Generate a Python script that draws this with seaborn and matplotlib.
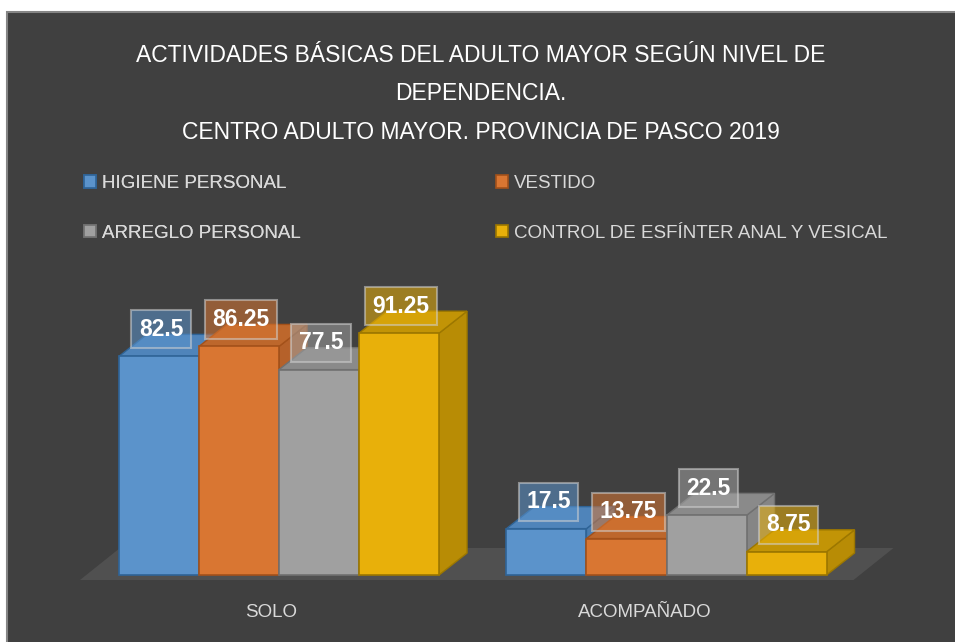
import numpy as np
import pandas as pd
import matplotlib
matplotlib.use("Agg")
import matplotlib.pyplot as plt
import seaborn as sns
from matplotlib.patches import Polygon, Rectangle, Patch

# datos del grafico
niveles = ["SOLO", "ACOMPAÑADO"]
actividades = ["HIGIENE PERSONAL", "VESTIDO", "ARREGLO PERSONAL",
               "CONTROL DE ESFÍNTER ANAL Y VESICAL"]
solo = [82.5, 86.25, 77.5, 91.25]
acompanado = [17.5, 13.75, 22.5, 8.75]

colores = ["#5b93cb", "#d97632", "#a0a0a0", "#e8b00a"]
bordes = ["#2f6497", "#a3511a", "#707070", "#9c7700"]
laterales = ["#4a7db0", "#b5612a", "#858585", "#b88c05"]
techos = ["#4f84ba", "#bd672c", "#8a8a8a", "#c29406"]

rows = []
for i, act in enumerate(actividades):
    rows.append((niveles[0], act, solo[i]))
    rows.append((niveles[1], act, acompanado[i]))
df = pd.DataFrame(rows, columns=["nivel", "actividad", "valor"])

sns.set_theme(style="white")
plt.rcParams["font.family"] = ["Liberation Sans", "DejaVu Sans"]

W, H = 955, 642
fig = plt.figure(figsize=(W / 100, H / 100), dpi=100, facecolor="white")
fig.patches.append(Rectangle((7 / W, -0.01), 1.0, 630 / H + 0.01, transform=fig.transFigure,
                             facecolor="#404040", edgecolor="#858585", lw=1.5, zorder=-5))

# posicion de los ejes (pixeles de la imagen)
AX_L, AX_R, AX_T, AX_B = 60, 900, 280, 585
X0, XS = 279, 387.5      # centro de SOLO, px por categoria
Y0, YS = 575, 2.65       # linea base, px por unidad
ax = fig.add_axes([AX_L / W, (H - AX_B) / H, (AX_R - AX_L) / W, (AX_B - AX_T) / H])
ax.patch.set_visible(False)
ax.set_zorder(2)

sns.barplot(data=df, x="nivel", y="valor", hue="actividad", order=niveles,
            hue_order=actividades, palette=colores, width=0.826, saturation=1,
            legend=False, ax=ax, linewidth=1.2)

ax.set_xlim((AX_L - X0) / XS, (AX_R - X0) / XS)
ax.set_ylim((Y0 - AX_B) / YS, (Y0 - AX_T) / YS)

dx, dy = 28 / XS, 22 / YS   # profundidad 3D

bars = []
for k, p in enumerate(ax.patches):
    bars.append((p, k // len(niveles)))
bars.sort(key=lambda t: t[0].get_x())

# piso
xmin = bars[0][0].get_x()
xmax = bars[-1][0].get_x() + bars[-1][0].get_width()
fy = -5 / YS
fdx, fdy = 40 / XS, 32 / YS
floor = Polygon([(xmin - 39 / XS, fy), (xmax + 27 / XS, fy),
                 (xmax + 27 / XS + fdx, fy + fdy), (xmin - 39 / XS + fdx, fy + fdy)],
                closed=True, facecolor="#505050", edgecolor="none", zorder=1)
ax.add_patch(floor)

for n, (p, h) in enumerate(bars):
    x0, w, hg = p.get_x(), p.get_width(), p.get_height()
    z = 2 + 3 * n
    side = Polygon([(x0 + w, 0), (x0 + w + dx, dy), (x0 + w + dx, hg + dy), (x0 + w, hg)],
                   closed=True, facecolor=laterales[h], edgecolor=bordes[h], lw=1.0, zorder=z)
    top = Polygon([(x0, hg), (x0 + w, hg), (x0 + w + dx, hg + dy), (x0 + dx, hg + dy)],
                  closed=True, facecolor=techos[h], edgecolor=bordes[h], lw=1.0, zorder=z + 1)
    ax.add_patch(side)
    ax.add_patch(top)
    p.set_zorder(z + 2)
    p.set_edgecolor(bordes[h])

for p, h in bars:
    x0, w, hg = p.get_x(), p.get_width(), p.get_height()
    ax.annotate(f"{hg:g}", xy=(x0 + w / 2, hg), xytext=(2, 27), textcoords="offset pixels",
                ha="center", va="center", color="white", fontsize=16.5, fontweight="bold",
                zorder=50,
                bbox=dict(boxstyle="square,pad=0.33", facecolor=colores[h], alpha=0.55,
                          edgecolor="#d0d0d0", lw=1.5))

for s in ax.spines.values():
    s.set_visible(False)
ax.set_yticks([])
ax.set_xticks([0 - 8 / XS, 1 - 22 / XS], niveles)
ax.set_xlabel("")
ax.set_ylabel("")
ax.tick_params(axis="x", length=0, pad=14, labelsize=13.5, labelcolor="#d9d9d9")

# titulo
fig.text(481 / W, 1 - 44 / H,
         "ACTIVIDADES BÁSICAS DEL ADULTO MAYOR SEGÚN NIVEL DE\nDEPENDENCIA.\n"
         "CENTRO ADULTO MAYOR. PROVINCIA DE PASCO 2019",
         ha="center", va="top", color="white", fontsize=16.5, linespacing=1.85)

# leyenda
def handle(i):
    return Patch(facecolor=colores[i], edgecolor=bordes[i], lw=1.2)

ley = dict(loc="upper left", frameon=False, fontsize=13.5, labelcolor="#d9d9d9",
           handlelength=0.65, handleheight=0.65, handletextpad=0.3, labelspacing=1.75,
           borderaxespad=0, borderpad=0)
leg1 = fig.legend(handles=[handle(0), handle(2)], labels=[actividades[0], actividades[2]],
                  bbox_to_anchor=(84 / W, 1 - 175 / H), **ley)
fig.add_artist(leg1)
fig.legend(handles=[handle(1), handle(3)], labels=[actividades[1], actividades[3]],
           bbox_to_anchor=(496 / W, 1 - 175 / H), **ley)

fig.savefig("out.png", dpi=100, facecolor="white")
